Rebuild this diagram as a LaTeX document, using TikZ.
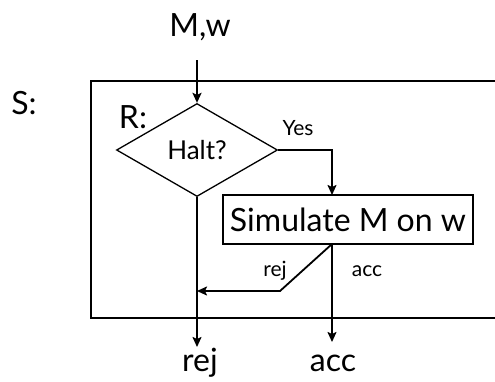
\documentclass[tikz,border=0pt]{standalone}
\usepackage{fontspec}
\setmainfont{Lato}
\usetikzlibrary{shapes.geometric,arrows.meta}
\begin{document}
\begin{tikzpicture}[x=1pt,y=-1pt,
  arr/.style={line width=1.8pt,-{Stealth[length=10pt,width=9pt,inset=2pt]}},
  plain/.style={line width=1.3pt},
  big/.style={font=\fontsize{32}{36}\selectfont},
  mid/.style={font=\fontsize{26}{30}\selectfont},
  small/.style={font=\fontsize{21}{24}\selectfont},
  lbl/.style={inner sep=0pt}]
\useasboundingbox (0,0) rectangle (495,381);
% outer box S (open on the right)
\draw[plain] (500,81) -- (91,81) -- (91,318) -- (500,318);
\node[lbl,big] (S) at (24,103) {S:};
\node[lbl,big] (R) at (133,117) {R:};
\node[lbl,big] (mw) at (200,27) {M,w};
\coordinate (mwtop) at (197,60);
\node[draw,plain,diamond,inner sep=0pt,minimum width=161pt,minimum height=93pt,aspect=1.73,mid] (halt) at (197,150) {Halt?};
\node[draw,plain,rectangle,minimum width=250pt,minimum height=49pt,inner sep=0pt,big] (sim) at (348,219.5) {Simulate M on w};
\coordinate (simtop) at (332,195);
\coordinate (simbot) at (332,244);
\coordinate (kink) at (280,291);
\coordinate (rejin) at (197,291);
\coordinate (accend) at (332,342);
\coordinate (rejend) at (197,347);
\node[lbl,small] (yes) at (298,128) {Yes};
\node[lbl,small] (rejs) at (275,271) {rej};
\node[lbl,small] (accs) at (367,271) {acc};
\node[lbl,big] (rejb) at (200,363) {rej};
\node[lbl,big] (accb) at (333,363) {acc};
\draw[arr] (mwtop) -- (halt.north);
\draw[arr] (halt.east) -| (simtop);
\draw[arr] (halt.south) -- (rejend);
\draw[arr] (simbot) -- (accend);
\draw[arr] (simbot) -- (kink) -- (rejin);
\end{tikzpicture}
\end{document}
